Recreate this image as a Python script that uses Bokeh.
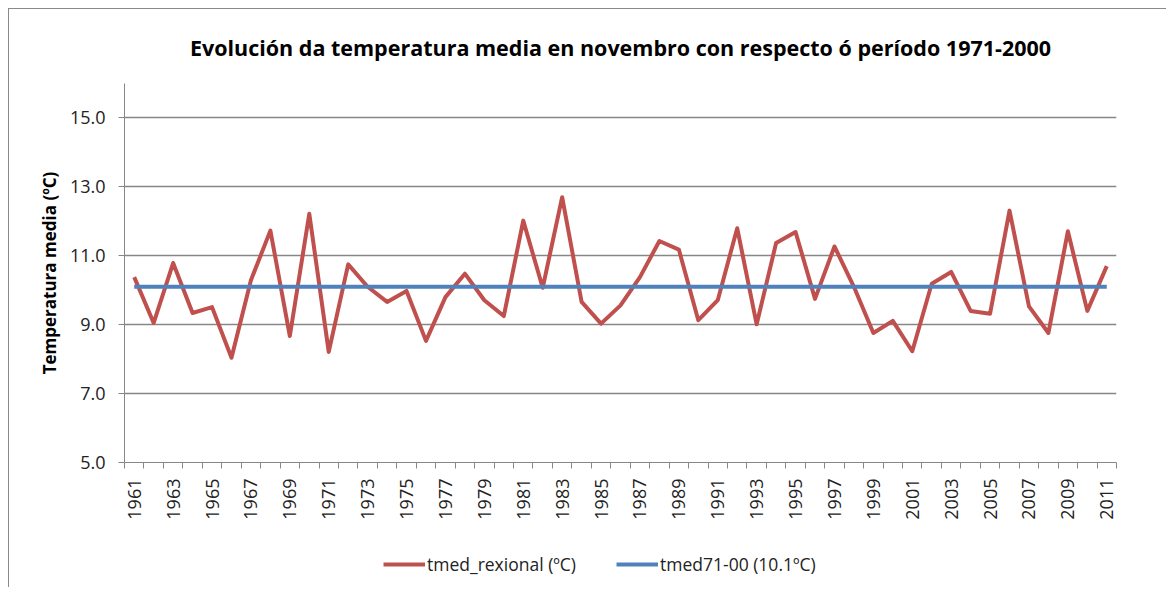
import math
from bokeh.plotting import figure
from bokeh.layouts import column
from bokeh.models import FixedTicker, Legend, LegendItem, ColumnDataSource, CustomJSTickFormatter
from bokeh.embed import file_html
from bokeh.resources import INLINE

years = list(range(1961, 2012))
tmed_rexional = [10.38, 9.05, 10.79, 9.34, 9.51, 8.04, 10.29, 11.73, 8.67, 12.22,
                 8.21, 10.75, 10.10, 9.66, 9.98, 8.53, 9.80, 10.48, 9.71, 9.25,
                 12.02, 10.07, 12.70, 9.66, 9.03, 9.56, 10.38, 11.43, 11.18, 9.13,
                 9.71, 11.80, 9.01, 11.37, 11.69, 9.75, 11.27, 10.10, 8.76, 9.11,
                 8.23, 10.19, 10.53, 9.40, 9.32, 12.31, 9.53, 8.76, 11.71, 9.40,
                 10.70]
tmed71_00 = 10.1
y_ticks = [5, 7, 9, 11, 13, 15]
x_label_years = list(range(1961, 2012, 2))

title = "Evolución da temperatura media en novembro con respecto ó período 1971-2000"
ylabel = "Temperatura media (ºC)"
legend_labels = ["tmed_rexional (ºC)", "tmed71-00 (10.1ºC)"]

FONT = "Open Sans"
GRAY = "#878787"
RED = "#C0504D"
BLUE = "#4F81BD"

p = figure(width=1157, height=520, output_backend="svg", toolbar_location=None,
           x_range=(1960.5, 2011.5), y_range=(5, 16),
           min_border_left=115, min_border_right=50, min_border_top=72, min_border_bottom=67)
p.outline_line_color = None

p.title.text = title
p.title.align = "center"
p.title.text_font = FONT
p.title.text_font_style = "bold"
p.title.text_font_size = "21.5px"
p.title.text_color = "#000000"
p.title.standoff = 43

src = ColumnDataSource(dict(x=years, y=tmed_rexional, b=[tmed71_00] * len(years)))
p.line("x", "y", source=src, line_color=RED, line_width=4, line_join="round")
p.line("x", "b", source=src, line_color=BLUE, line_width=4)

# y axis
p.yaxis.ticker = FixedTicker(ticks=y_ticks)
p.yaxis.formatter = CustomJSTickFormatter(code="return tick.toFixed(1);")
p.yaxis.axis_line_color = GRAY
p.yaxis.major_tick_line_color = GRAY
p.yaxis.major_tick_out = 6
p.yaxis.major_tick_in = 0
p.yaxis.minor_tick_line_color = None
p.yaxis.major_label_text_font = FONT
p.yaxis.major_label_text_font_size = "18px"
p.yaxis.major_label_text_color = "#222222"
p.yaxis.major_label_standoff = 13
p.yaxis.axis_label = ylabel
p.yaxis.axis_label_text_font = FONT
p.yaxis.axis_label_text_font_style = "bold"
p.yaxis.axis_label_text_font_size = "17px"
p.yaxis.axis_label_text_color = "#000000"
p.yaxis.axis_label_standoff = 6

# x axis
boundaries = [y - 0.5 for y in years] + [years[-1] + 0.5]
p.xaxis.ticker = FixedTicker(ticks=x_label_years, minor_ticks=boundaries)
p.xaxis.major_label_orientation = math.pi / 2
p.xaxis.axis_line_color = GRAY
p.xaxis.major_tick_line_color = None
p.xaxis.minor_tick_line_color = GRAY
p.xaxis.minor_tick_out = 6
p.xaxis.minor_tick_in = 0
p.xaxis.major_tick_out = 6
p.xaxis.major_label_text_font = FONT
p.xaxis.major_label_text_font_size = "18px"
p.xaxis.major_label_text_color = "#222222"
p.xaxis.major_label_standoff = 10

p.xgrid.grid_line_color = None
p.ygrid.ticker = FixedTicker(ticks=y_ticks)
p.ygrid.grid_line_color = GRAY
p.ygrid.grid_line_width = 1.3

# legend strip below the chart (series drawn out of view; only legend shows)
q = figure(width=1157, height=58, output_backend="svg", toolbar_location=None,
           x_axis_type=None, y_axis_type=None, min_border=0,
           x_range=(0, 1), y_range=(0, 1))
q.outline_line_color = None
q.grid.visible = False
l1 = q.line("x", "y", source=src, line_color=RED, line_width=4)
l2 = q.line("x", "b", source=src, line_color=BLUE, line_width=4)
legend = Legend(items=[LegendItem(label=legend_labels[0], renderers=[l1]),
                       LegendItem(label=legend_labels[1], renderers=[l2])],
                orientation="horizontal", location=(259, 11),
                label_text_font=FONT, label_text_font_size="17.5px",
                label_text_color="#222222", glyph_width=42, label_standoff=2,
                spacing=40, border_line_color=None, background_fill_alpha=0,
                margin=0, padding=0)
q.add_layout(legend, "center")

layout = column(p, q, spacing=0,
                styles={"margin-left": "8px", "margin-top": "8px",
                        "border-left": "1px solid #8a8a8a", "border-top": "1px solid #8a8a8a"})

open("out.html", "w").write(file_html(layout, INLINE))
